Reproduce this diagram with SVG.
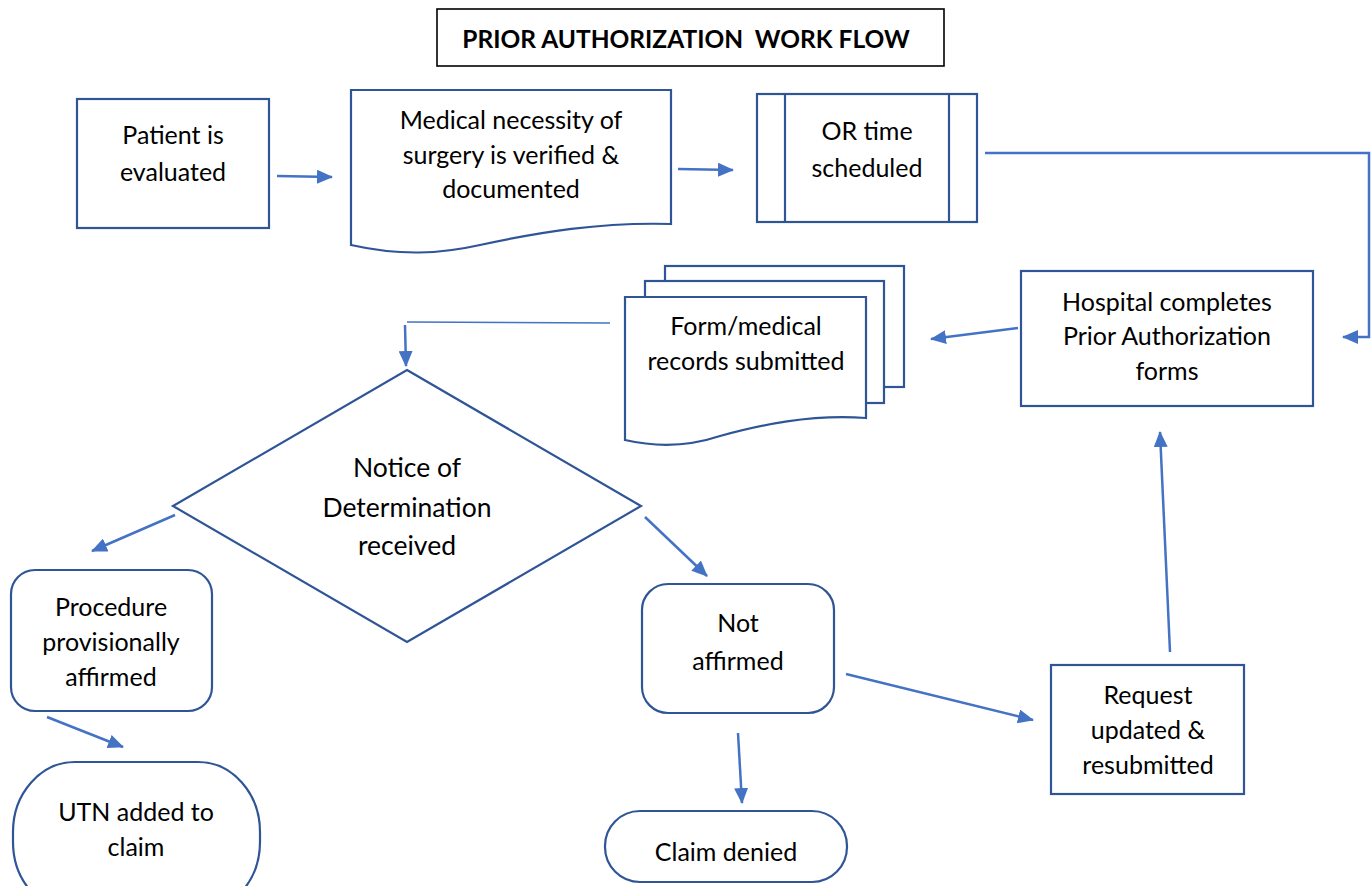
<svg xmlns="http://www.w3.org/2000/svg" width="1372" height="886" viewBox="0 0 1372 886">
<defs>
<marker id="ah" markerUnits="userSpaceOnUse" markerWidth="16" markerHeight="14" refX="15" refY="7" orient="auto"><path d="M0,0 L16,7 L0,14 Z" fill="#4472C4"/></marker>
<style>
.n{fill:#fff;stroke:#2F5597;stroke-width:2.2}
.t{font-family:Lato,"Open Sans","Liberation Sans",sans-serif;font-size:25px;fill:#000;text-anchor:middle}
.d{font-size:26.5px}
.c{fill:none;stroke:#4472C4;stroke-width:2.5}
</style>
</defs>
<rect width="1372" height="886" fill="#fff"/>
<g id="title"><rect x="437" y="9" width="507" height="57" fill="#fff" stroke="#000" stroke-width="1.6"/><text x="686" y="48" xml:space="preserve" style="font-family:Lato,'Liberation Sans',sans-serif;font-size:24.5px;font-weight:bold;text-anchor:middle">PRIOR AUTHORIZATION  WORK FLOW</text></g>
<g id="patient"><rect class="n" x="77" y="99" width="192" height="129"/><text class="t" x="173" y="144">Patient is</text><text class="t" x="173" y="181">evaluated</text></g>
<g id="medical"><path class="n" d="M351,90 H671 V224 C600,222 540,232 480,245 C440,254 400,256 351,245 Z"/><text class="t" x="511" y="129">Medical necessity of</text><text class="t" x="511" y="164">surgery is verified &amp;</text><text class="t" x="511" y="198">documented</text></g>
<g id="or"><rect class="n" x="757" y="94" width="220" height="128"/><line class="n" x1="785" y1="94" x2="785" y2="222"/><line class="n" x1="949" y1="94" x2="949" y2="222"/><text class="t" x="867" y="140">OR time</text><text class="t" x="867" y="177">scheduled</text></g>
<g id="hospital"><rect class="n" x="1021" y="271" width="292" height="135"/><text class="t" x="1167" y="311">Hospital completes</text><text class="t" x="1167" y="345">Prior Authorization</text><text class="t" x="1167" y="380">forms</text></g>
<g id="forms"><rect class="n" x="665" y="266" width="239" height="121"/><rect class="n" x="645" y="281" width="239" height="122"/><path class="n" d="M625,297 H866 V418 C810,414 760,425 720,436 C690,446 660,448 625,440 Z"/><text class="t" x="746" y="335">Form/medical</text><text class="t" x="746" y="370">records submitted</text></g>
<g id="decision"><path class="n" d="M407,370 L641,506 L407,642 L173,506 Z"/><text class="t d" x="407" y="477">Notice of</text><text class="t d" x="407" y="517">Determination</text><text class="t d" x="407" y="555">received</text></g>
<g id="procedure"><rect class="n" x="11" y="570" width="201" height="141" rx="24"/><text class="t" x="111" y="616">Procedure</text><text class="t" x="111" y="651">provisionally</text><text class="t" x="111" y="686">affirmed</text></g>
<g id="utn"><rect class="n" x="13" y="762" width="247" height="150" rx="62" ry="70"/><text class="t" x="136" y="821">UTN added to</text><text class="t" x="136" y="856">claim</text></g>
<g id="notaffirmed"><rect class="n" x="642" y="584" width="192" height="129" rx="26"/><text class="t" x="738" y="632">Not</text><text class="t" x="738" y="670">affirmed</text></g>
<g id="denied"><rect class="n" x="605" y="811" width="242" height="71" rx="35"/><text class="t" x="726" y="861">Claim denied</text></g>
<g id="request"><rect class="n" x="1051" y="665" width="193" height="129"/><text class="t" x="1148" y="704">Request</text><text class="t" x="1148" y="739">updated &amp;</text><text class="t" x="1148" y="774">resubmitted</text></g>
<g id="connectors">
<line class="c" x1="277" y1="176" x2="332" y2="177" marker-end="url(#ah)"/>
<line class="c" x1="678" y1="169" x2="733" y2="170" marker-end="url(#ah)"/>
<polyline class="c" points="985,153 1369,153 1369,337 1343,337" marker-end="url(#ah)"/>
<line class="c" x1="1018" y1="328" x2="931" y2="339" marker-end="url(#ah)"/>
<line x1="610" y1="323" x2="407" y2="322" stroke="#4472C4" stroke-width="1.5"/>
<line class="c" x1="405" y1="325" x2="406" y2="366" marker-end="url(#ah)"/>
<line class="c" x1="175" y1="515" x2="92" y2="551" marker-end="url(#ah)"/>
<line class="c" x1="645" y1="517" x2="707" y2="576" marker-end="url(#ah)"/>
<line class="c" x1="47" y1="717" x2="123" y2="747" marker-end="url(#ah)"/>
<line class="c" x1="738" y1="733" x2="742" y2="803" marker-end="url(#ah)"/>
<line class="c" x1="846" y1="674" x2="1033" y2="720" marker-end="url(#ah)"/>
<line class="c" x1="1170" y1="652" x2="1160" y2="432" marker-end="url(#ah)"/>
</g>
</svg>
